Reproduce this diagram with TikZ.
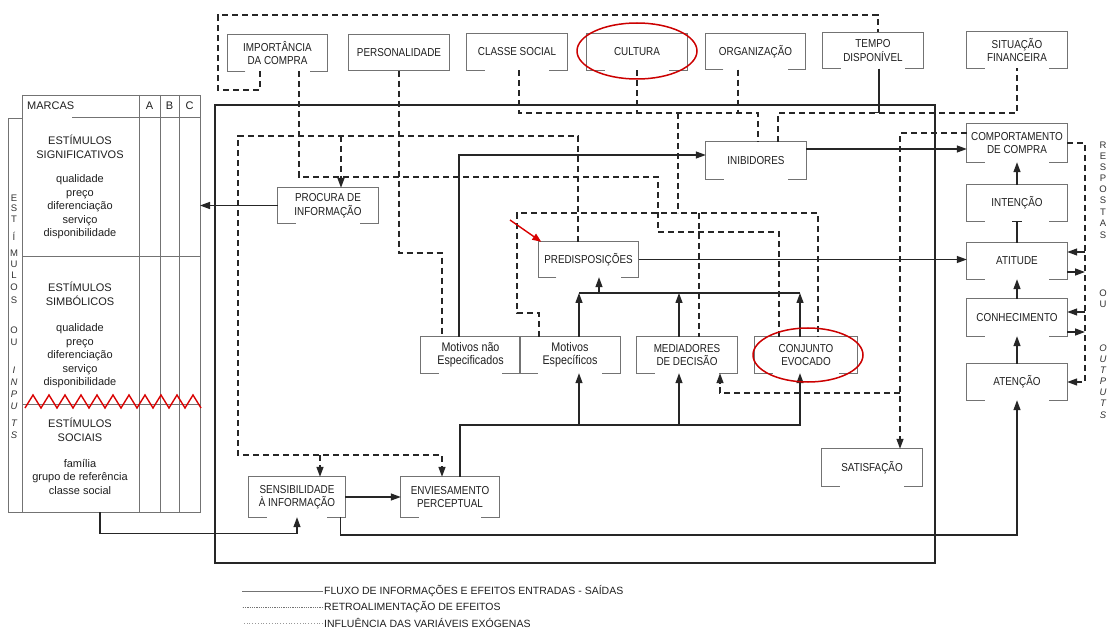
\documentclass[tikz,border=0pt]{standalone}
\usepackage{fontspec}
\setmainfont{Liberation Sans}
\newfontfamily\boxfont{Liberation Sans}[FakeStretch=0.86]
\usetikzlibrary{arrows.meta,calc}

\begin{document}
\begin{tikzpicture}[x=1pt,y=-1pt,
  box/.style={minimum width=100pt,minimum height=36pt,inner sep=1pt,align=center,text=black!88,font=\boxfont\fontsize{11.5}{13.5}\selectfont},
  mixbox/.style={box,font=\boxfont\fontsize{12.5}{13.5}\selectfont},
  boxline/.style={draw=black!55,line width=0.8pt},
  flow/.style={draw=black!85,line width=1.3pt,-{Triangle[length=10pt,width=7pt]}},
  link/.style={draw=black!85,line width=1.3pt},
  exo/.style={draw=black!85,line width=1.4pt,dash pattern=on 6pt off 4pt},
  exoarrow/.style={exo,-{Triangle[length=10pt,width=7pt]}},
  ring/.style={draw=red!80!black,line width=1.5pt},
  tabtxt/.style={align=center,inner sep=0pt,text=black!88,font=\fontsize{11}{13.5}\selectfont},
  vtxt/.style={inner sep=0pt,text=black!80,font=\fontsize{9.5}{10}\selectfont},
  legtxt/.style={anchor=west,inner sep=1pt,text=black!88,font=\fontsize{10.5}{12}\selectfont}
]
\fill[white] (0,0) rectangle (1112,639);
\useasboundingbox (0,0) rectangle (1112,639);

\node[box] (imp) at (277.5,53) {IMPORTÂNCIA\\DA COMPRA};
\node[box] (pers) at (399,52.5) {PERSONALIDADE};
\node[box] (classe) at (517,52) {CLASSE SOCIAL};
\node[box] (cult) at (637,52) {CULTURA};
\node[box] (org) at (755.5,51.5) {ORGANIZAÇÃO};
\node[box] (tempo) at (873,50.5) {TEMPO\\DISPONÍVEL};
\node[box] (sit) at (1017,50) {SITUAÇÃO\\FINANCEIRA};

\node[box,minimum height=38pt] (comp) at (1017,143) {COMPORTAMENTO\\DE COMPRA};
\node[box] (intc) at (1017,203) {INTENÇÃO};
\node[box] (atit) at (1017,261) {ATITUDE};
\node[box,minimum height=37pt] (conh) at (1017,317.5) {CONHECIMENTO};
\node[box] (aten) at (1017,382) {ATENÇÃO};

\node[box,minimum height=37pt] (inib) at (756,160.5) {INIBIDORES};
\node[box,minimum height=35pt] (proc) at (328,205.5) {PROCURA DE\\INFORMAÇÃO};
\node[box,minimum height=35pt] (pred) at (588.5,259.5) {PREDISPOSIÇÕES};
\node[mixbox,minimum width=99pt] (motn) at (470.5,355) {Motivos não\\Especificados};
\node[mixbox] (mote) at (570,355) {Motivos\\Específicos};
\node[box] (med) at (687,355) {MEDIADORES\\DE DECISÃO};
\node[box,minimum width=102pt] (conj) at (806,355) {CONJUNTO\\EVOCADO};
\node[box,minimum height=37pt] (sat) at (872,467.5) {SATISFAÇÃO};
\node[box,minimum width=96pt,minimum height=40pt] (sens) at (297,497) {SENSIBILIDADE\\À INFORMAÇÃO};
\node[box,minimum width=98pt,minimum height=40pt] (envi) at (450,497) {ENVIESAMENTO\\PERCEPTUAL};

\foreach \n in {imp,classe,cult,org,tempo,sit,comp,intc,atit,conh,aten,inib,proc,pred,motn,mote,med,conj,sat,sens,envi}
  \draw[boxline] ([xshift=18]\n.south west) -- (\n.south west) -- (\n.north west) -- (\n.north east) -- (\n.south east) -- ([xshift=-18]\n.south east);
\draw[boxline] (pers.south west) rectangle (pers.north east);

\draw[black!85,line width=2.4pt] (215,105) rectangle (935,563);

% quadro das marcas
\draw[boxline] (22,95) -- (200,95) -- (200,512) -- (8,512) -- (8,118) -- (22,118);
\draw[boxline] (22,95) -- (22,512);
\draw[boxline] (72,117) -- (200,117);
\foreach \x in {139,160,179} \draw[boxline] (\x,95) -- (\x,512);
\draw[boxline] (22,256) -- (200,256);
\draw[boxline] (22,404) -- (200,404);
\draw[red!85!black,line width=1.4pt] (25,408) foreach \i in {1,...,11} {-- ++(8,-13) -- ++(8,13)};

\node[tabtxt,anchor=west] (marc) at (27,106) {MARCAS};
\node[tabtxt] (ca) at (149.5,106) {A};
\node[tabtxt] (cb) at (169.5,106) {B};
\node[tabtxt] (cc) at (189.5,106) {C};
\node[tabtxt] (sig) at (80,147) {ESTÍMULOS\\SIGNIFICATIVOS};
\node[tabtxt] (sigl) at (80,207) {qualidade\\preço\\diferenciação\\serviço\\disponibilidade};
\node[tabtxt] (sim) at (80,294) {ESTÍMULOS\\SIMBÓLICOS};
\node[tabtxt] (siml) at (80,356) {qualidade\\preço\\diferenciação\\serviço\\disponibilidade};
\node[tabtxt] (soc) at (80,430) {ESTÍMULOS\\SOCIAIS};
\node[tabtxt] (socl) at (80,477) {família\\grupo de referência\\classe social};

\foreach \l/\y in {E/198,S/208,T/219,Í/236,M/253,U/264,L/275,O/287,S/300,O/330,U/342}
  \node[vtxt] (le\y) at (14,\y) {\l};
\foreach \l/\y in {I/370,N/382,P/394,U/406,T/423,S/435}
  \node[vtxt,font=\fontsize{9.5}{10}\itshape] (li\y) at (14,\y) {\l};
\foreach \l/\y in {R/145,E/156,S/167,P/178,O/189,S/200,T/212,A/223,S/235,O/293,U/304}
  \node[vtxt] (re\y) at (1103,\y) {\l};
\foreach \l/\y in {O/348,U/359,T/370,P/381,U/392,T/403,S/415}
  \node[vtxt,font=\fontsize{9.5}{10}\itshape] (ro\y) at (1103,\y) {\l};

\coordinate (tabR) at (200,205.5);
\coordinate (tabB) at (100,512);

% fluxo
\draw[flow] (proc.west) -- (tabR);
\draw[flow] ([xshift=-11.5]motn.north) |- ([yshift=5.5]inib.west);
\draw[flow] ([yshift=11.5]inib.east) -- ([yshift=11.5]inib.east -| comp.west);
\draw[flow] (pred.east) -- (pred.east -| atit.west);
\draw[flow] (intc.north) -- (comp.south);
\draw[link,-{Bar[width=10pt]}] (atit.north) -- (intc.south);
\draw[flow] (conh.north) -- (atit.south);
\draw[flow] (aten.north) -- (conh.south);
\draw[flow] (sens.east) -- (envi.west);
\draw[flow] (tabB) |- ([yshift=-16]sens.south) -- (sens.south);
\draw[flow] ([xshift=-5]sens.south east) |- (1017,535) -- (aten.south);

\coordinate (lowL) at (579,425);
\coordinate (lowM) at (679,425);
\draw[flow] ([xshift=10]envi.north) |- (800,425) -- ([xshift=-6]conj.south);
\draw[flow] (lowL) -- ([xshift=9]mote.south);
\draw[flow] (lowM) -- ([xshift=-8]med.south);

\coordinate (upL) at (579,293);
\coordinate (upM) at (679,293);
\coordinate (upR) at (800,293);
\coordinate (upP) at (599,293);
\draw[link] (upL) -- (upR);
\draw[flow] ([xshift=9]mote.north) -- (upL);
\draw[flow] ([xshift=-8]med.north) -- (upM);
\draw[flow] ([xshift=-6]conj.north) -- (upR);
\draw[flow] (upP) -- ([xshift=10.5]pred.south);

\coordinate (fbR) at (1085,382);
\draw[flow] (1085,252) -- ([yshift=9]atit.east);
\draw[flow] ([yshift=-11]atit.east) -- (1085,272);
\draw[flow] (1085,312) -- ([yshift=5.5]conh.east);
\draw[flow] ([yshift=-14.5]conh.east) -- (1085,332);

% retroalimentacao e variaveis exogenas
\draw[exo] ([xshift=-17.5]imp.south) |- (218,90) -- (218,15) -| ([xshift=5]tempo.north);
\draw[exo] ([xshift=21.5]imp.south) |- (658,177) |- (779,232) -- ([xshift=-27]conj.north);
\draw[exoarrow] ([xshift=-10.5]pred.north) |- (238,136) |- (442,455) -- ([xshift=-8]envi.north);
\draw[exoarrow] (320,455) -- ([xshift=23]sens.north);
\draw[exoarrow] (341,136) -- ([xshift=13]proc.north);
\draw[exo] (pers.south) |- (442,253) -- ([xshift=-28.5]motn.north);
\draw[exo] ([xshift=2]classe.south) |- (758,113) -- ([xshift=2]inib.north);
\draw[exo] (cult.south) -- ++(0,43);
\draw[exo] ([xshift=-17.5]org.south) -- ++(0,43);
\draw[exo] (678,113) -- (678,213);
\draw[exo] ([xshift=-31]mote.north) |- (517,313) |- (818,213) -- ([xshift=12]conj.north);
\draw[exo] (699,213) -- ([xshift=12]med.north);
\draw[exo] ([xshift=22]inib.north) |- (1017,113) -- (sit.south);
\draw[link,-{Bar[width=10pt]}] ([xshift=6]tempo.south) -- ++(0,44.5);
\draw[exoarrow] ([yshift=10]comp.west) -| ([xshift=28]sat.north);
\draw[exoarrow] (900,393) -| ([xshift=33]med.south);
\draw[exoarrow] (comp.east) -| (fbR) -- (aten.east);

% marcas em vermelho
\draw[ring] (637,51) ellipse [x radius=60pt,y radius=28pt];
\draw[ring] (808,355) ellipse [x radius=55pt,y radius=27pt];
\coordinate (rtail) at (510,220);
\draw[red!85!black,line width=1.4pt,-{Triangle[length=9pt,width=7pt]}] (rtail) -- ([xshift=3]pred.north west);

% legenda
\node[legtxt] (lg1) at (323,591) {FLUXO DE INFORMAÇÕES E EFEITOS ENTRADAS - SAÍDAS};
\node[legtxt] (lg2) at (323,607) {RETROALIMENTAÇÃO DE EFEITOS};
\node[legtxt] (lg3) at (323,623) {INFLUÊNCIA DAS VARIÁVEIS EXÓGENAS};
\draw[black!55,line width=0.8pt] (lg1.west) -- ++(-81,0);
\draw[black!55,line width=0.8pt,densely dotted] (lg2.west) -- ++(-81,0);
\draw[black!40,line width=0.8pt,dotted] (lg3.west) -- ++(-81,0);
\end{tikzpicture}
\end{document}
